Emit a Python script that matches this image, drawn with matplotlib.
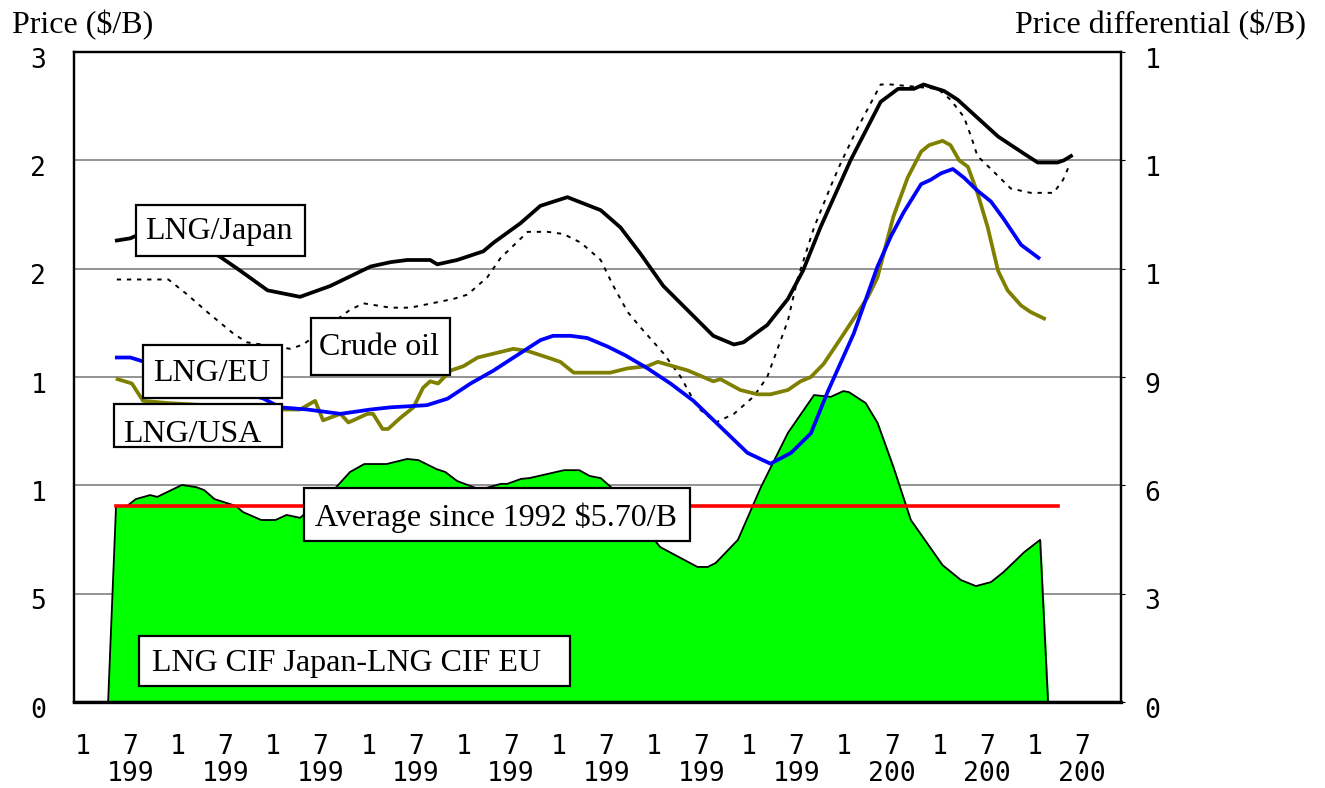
import matplotlib
matplotlib.use("Agg")
import matplotlib.pyplot as plt
import matplotlib.transforms as mtransforms
from matplotlib.patches import Rectangle

# months since Jan 1992 (x axis), prices in $/B (left axis)
japan_t = [5.4, 7.1, 7.7, 18.2, 20.6, 24.4, 28.5, 32.3, 37.4, 39.9, 42.0, 44.9,
           45.8, 48.3, 51.6, 52.9, 56.3, 58.8, 62.2, 66.4, 68.9, 71.4, 74.3, 80.6,
           83.2, 84.4, 87.4, 90.0, 91.9, 94.1, 97.9, 101.7, 103.9, 105.9, 107.1,
           109.7, 111.4, 116.5, 119.8, 121.5, 124.0, 124.8, 125.7]
japan_v = [21.3, 21.4, 21.5, 20.6, 20.0, 19.0, 18.7, 19.2, 20.1, 20.3, 20.4, 20.4,
           20.2, 20.4, 20.8, 21.2, 22.1, 22.9, 23.3, 22.7, 21.9, 20.7, 19.2, 16.9,
           16.5, 16.6, 17.4, 18.6, 19.9, 21.9, 25.0, 27.7, 28.3, 28.3, 28.5,
           28.2, 27.8, 26.1, 25.3, 24.9, 24.9, 25.0, 25.2]

crude_t = [5.4, 11.9, 14.3, 16.8, 20.1, 21.8, 27.3, 28.9, 34.8, 36.5, 39.9, 42.4,
           47.8, 49.6, 52.1, 53.8, 57.2, 59.7, 61.7, 63.9, 66.4, 68.0, 69.8, 71.4,
           74.3, 76.5, 78.6, 80.9, 83.2, 85.7, 87.4, 88.7, 90.0, 91.2, 93.3, 95.4,
           96.7, 98.8, 101.7, 103.0, 108.9, 110.5, 112.2, 113.1, 113.9, 115.6,
           118.1, 120.6, 123.5, 124.7, 125.4]
crude_v = [19.5, 19.5, 18.8, 18.0, 17.0, 16.6, 16.3, 16.5, 18.1, 18.4, 18.2, 18.2,
           18.6, 18.8, 19.6, 20.5, 21.7, 21.7, 21.6, 21.2, 20.4, 19.2, 18.0, 17.3,
           16.1, 15.0, 13.6, 12.9, 13.3, 14.1, 15.0, 16.3, 17.6, 19.5, 21.9, 23.8,
           24.9, 26.5, 28.5, 28.5, 28.3, 27.8, 27.0, 26.1, 25.2, 24.6,
           23.7, 23.5, 23.5, 24.1, 24.7]

eu_t = [5.4, 7.1, 23.9, 26.0, 29.4, 33.6, 37.4, 39.9, 44.5, 47.1, 50.0, 52.9,
        55.0, 58.8, 60.4, 62.6, 64.7, 67.3, 69.5, 72.3, 75.2, 78.1, 81.5, 84.9,
        87.8, 90.4, 92.9, 95.0, 98.3, 101.3, 103.0, 104.6, 106.8, 108.0, 109.3,
        110.8, 112.2, 113.9, 115.6, 117.2, 119.4, 121.6]
eu_v = [15.9, 15.9, 14.0, 13.6, 13.5, 13.3, 13.5, 13.6, 13.7, 14.0, 14.7, 15.3,
        15.8, 16.7, 16.9, 16.9, 16.8, 16.4, 16.0, 15.4, 14.7, 13.9, 12.7, 11.5,
        11.0, 11.5, 12.4, 14.3, 17.0, 20.1, 21.5, 22.6, 23.9, 24.1, 24.4,
        24.6, 24.2, 23.6, 23.1, 22.3, 21.1, 20.5]

usa_t = [5.5, 7.3, 8.7, 11.7, 26.3, 28.5, 30.4, 31.4, 33.6, 34.6, 37.0, 37.7,
         38.9, 39.6, 41.1, 42.8, 44.0, 44.9, 45.9, 47.5, 49.1, 50.9, 55.4, 57.2,
         59.7, 61.3, 63.0, 64.7, 67.6, 69.8, 72.3, 73.6, 77.4, 80.6, 81.5, 84.0,
         86.2, 87.8, 90.0, 91.6, 92.9, 94.5, 96.7, 100.1, 101.3, 103.3, 105.1,
         106.8, 107.8, 109.5, 110.5, 111.6, 112.7, 113.9, 115.2, 116.5, 117.7,
         119.4, 120.6, 122.3]
usa_v = [14.9, 14.7, 13.9, 13.8, 13.5, 13.5, 13.9, 13.0, 13.3, 12.9, 13.3, 13.3,
         12.6, 12.6, 13.1, 13.6, 14.5, 14.8, 14.7, 15.3, 15.5, 15.9, 16.3, 16.2,
         15.9, 15.7, 15.2, 15.2, 15.2, 15.4, 15.5, 15.7, 15.3, 14.8, 14.9, 14.4,
         14.2, 14.2, 14.4, 14.8, 15.0, 15.6, 16.8, 18.7, 19.6, 22.4, 24.2,
         25.4, 25.7, 25.9, 25.7, 25.0, 24.7, 23.5, 21.9, 19.9, 19.0,
         18.3, 18.0, 17.7]

# price differential LNG CIF Japan - LNG CIF EU, $/B (right axis)
diff_t = [4.3, 5.3, 6.7, 7.8, 9.6, 10.5, 13.6, 15.4, 16.4, 17.7, 20.4, 21.3, 23.6,
          25.4, 26.8, 28.5, 32.6, 34.8, 36.6, 39.4, 42.0, 43.4, 45.7, 46.8, 48.3,
          50.6, 52.0, 53.8, 54.6, 56.4, 57.4, 61.8, 63.7, 65.0, 66.4, 67.8, 73.9,
          78.6, 79.9, 80.9, 83.7, 86.6, 90.0, 93.3, 95.4, 97.0, 97.7, 99.8, 101.3,
          103.3, 105.5, 109.5, 111.8, 113.7, 115.6, 117.2, 119.8, 121.8, 122.8]
diff_v = [0.0, 5.43, 5.43, 5.62, 5.73, 5.68, 6.01, 5.95, 5.87, 5.62, 5.43, 5.26, 5.04,
          5.04, 5.18, 5.10, 5.84, 6.37, 6.59, 6.59, 6.73, 6.70, 6.45, 6.37, 6.12,
          5.93, 5.93, 6.04, 6.04, 6.18, 6.20, 6.42, 6.42, 6.26, 6.20, 5.93, 4.29,
          3.74, 3.74, 3.85, 4.49, 5.95, 7.45, 8.50, 8.45, 8.61, 8.58, 8.28, 7.73,
          6.51, 5.04, 3.79, 3.38, 3.21, 3.32, 3.60, 4.15, 4.49, 0.0]

avg_t = [5.3, 124.0]
avg_v = [5.43, 5.43]

left_ticks = [0, 5, 10, 15, 20, 25, 30]
left_labels = ["0", "5", "1", "1", "2", "2", "3"]
right_ticks = [0, 3, 6, 9, 12, 15, 18]
right_labels = ["0", "3", "6", "9", "1", "1", "1"]
year_labels = ["199"] * 8 + ["200"] * 3

SERIF = ["Liberation Serif", "DejaVu Serif"]
MONO = ["DejaVu Sans Mono"]
TICK_FS = 19

fig = plt.figure(figsize=(13.25, 7.88), dpi=100)
ax2 = fig.add_axes([0.05585, 0.10914, 0.79019, 0.82487])
ax = ax2.twinx()
ax.yaxis.tick_left()
ax2.yaxis.tick_right()
ax2.set_zorder(0)
ax.set_zorder(1)
ax.patch.set_visible(False)
ax2.patch.set_facecolor("white")

# differential area + average on the right axis
ax2.fill_between(diff_t, diff_v, 0, color="#00ff00", zorder=2)
ax2.plot(diff_t, diff_v, color="black", lw=1.3, zorder=3)
ax2.plot(avg_t, avg_v, color="#ff0000", lw=2.6, zorder=4)
ax2.set_ylim(0, 18)
ax2.set_xlim(0, 132)
ax2.set_yticks(right_ticks)
ax2.set_yticklabels(right_labels, family=MONO, fontsize=TICK_FS)
ax2.yaxis.grid(True, color="#808080", lw=1.2)
ax2.set_axisbelow(True)
ax2.tick_params(axis="y", direction="out", length=3, pad=14)

# price lines on the left axis
ax.plot(crude_t, crude_v, color="black", lw=1.4, ls=(0, (2.2, 3)))
ax.plot(usa_t, usa_v, color="#808000", lw=2.7)
ax.plot(eu_t, eu_v, color="#0000ff", lw=2.7)
ax.plot(japan_t, japan_v, color="black", lw=2.7)
ax.set_ylim(0, 30)
ax.set_xlim(0, 132)
ax.set_yticks(left_ticks)
ax.set_yticklabels(left_labels, family=MONO, fontsize=TICK_FS)
ax.tick_params(axis="y", length=0, pad=20)

# y labels sit a little below their gridlines in the original
down = mtransforms.ScaledTranslation(0, -4 / 72, fig.dpi_scale_trans)
for lbl in ax.get_yticklabels() + ax2.get_yticklabels():
    lbl.set_transform(lbl.get_transform() + down)

# x axis: year boundaries as inner ticks, month labels as minor ticks
ax2.set_xticks(range(12, 132, 12))
ax2.tick_params(axis="x", which="major", direction="in", length=6, labelbottom=False)
ax.tick_params(axis="x", which="major", length=0, labelbottom=False)
ax2.tick_params(axis="x", which="minor", length=0, pad=23)
label_pos = []
label_txt = []
for k, yr in enumerate(year_labels):
    label_pos += [12 * k + 1.1, 12 * k + 7.1]
    label_txt += ["1", "7\n" + yr]
ax2.set_xticks(label_pos, minor=True)
ax2.set_xticklabels(label_txt, minor=True, family=MONO, fontsize=TICK_FS)
for lbl in ax2.get_xticklabels(minor=True):
    lbl.set_linespacing(1.05)
    lbl.set_verticalalignment("top")

for a in (ax, ax2):
    for s in a.spines.values():
        s.set_linewidth(1.6)
        s.set_color("black")
ax2.spines["bottom"].set_linewidth(2.4)


def boxed(text, x0, x1, y0, y1, tx, ty):
    ax.add_patch(Rectangle((x0, y0), x1 - x0, y1 - y0, transform=ax.transAxes,
                           facecolor="white", edgecolor="black", lw=1.6,
                           zorder=5))
    ax.text(tx, ty, text, transform=ax.transAxes, ha="center", va="center",
            family=SERIF, fontsize=23, zorder=6)


boxed("LNG/Japan", 0.0592, 0.2206, 0.6862, 0.7646, 0.1385, 0.7236)
boxed("Crude oil", 0.2264, 0.3591, 0.5031, 0.5908, 0.2913, 0.5452)
boxed("LNG/EU", 0.0659, 0.1987, 0.4677, 0.5492, 0.1318, 0.5052)
boxed("LNG/USA", 0.0382, 0.1987, 0.3923, 0.4585, 0.1127, 0.4108)
boxed("Average since 1992 $5.70/B", 0.2197, 0.5883, 0.2477, 0.3292, 0.4031, 0.2836)
boxed("LNG CIF Japan-LNG CIF EU", 0.0621, 0.4737, 0.0246, 0.1015, 0.2598, 0.059)

fig.text(0.009, 0.968, "Price ($/B)", family=SERIF, fontsize=23,
         ha="left", va="center")
fig.text(0.986, 0.968, "Price differential ($/B)", family=SERIF, fontsize=23,
         ha="right", va="center")

fig.savefig("out.png", dpi=100)
